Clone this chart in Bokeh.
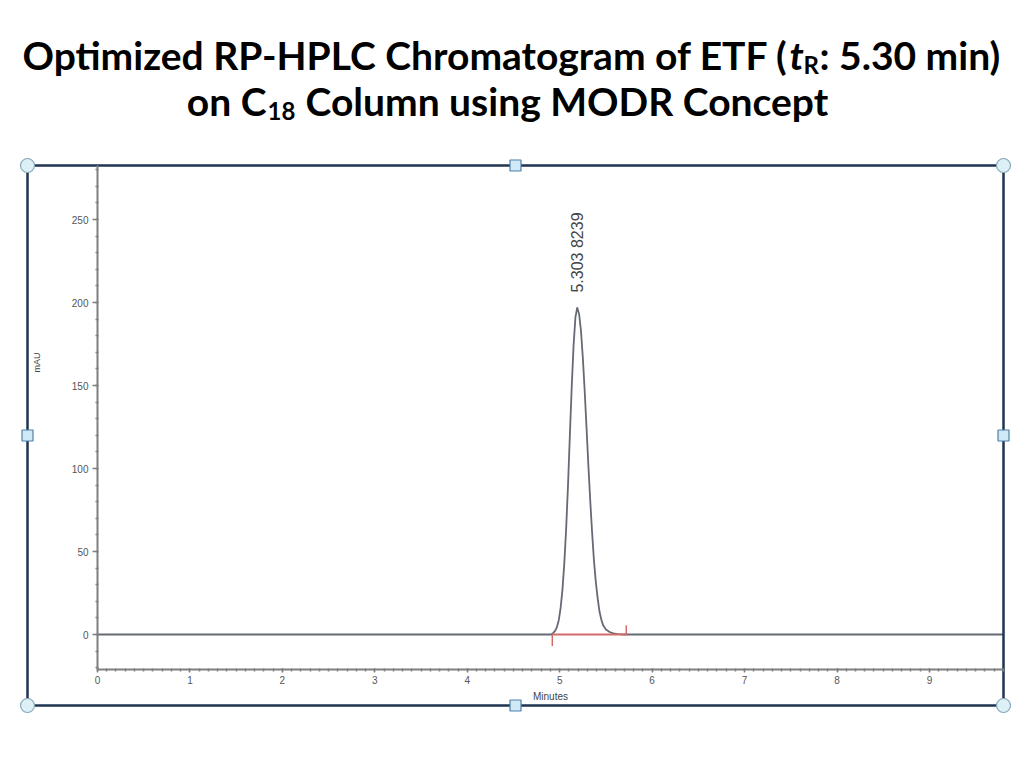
import math
from bokeh.plotting import figure
from bokeh.models import Range1d, FixedTicker
from bokeh.layouts import column
from bokeh.core.properties import value
from bokeh.embed import file_html
from bokeh.resources import INLINE

# ---------------- data ----------------
title_l1_main = "Optimized RP-HPLC Chromatogram of ETF ("
title_l1_t = "t"
title_l1_sub = "R"
title_l1_end = ": 5.30 min)"
title_l2_main = "on C"
title_l2_sub = "18"
title_l2_end = "Column using MODR Concept"

x_label = "Minutes"
y_label = "mAU"
peak_label = "5.303 8239"

x_ticks = [0, 1, 2, 3, 4, 5, 6, 7, 8, 9]
y_ticks = [0, 50, 100, 150, 200, 250]

run_start = 0.0
run_end = 9.8

peak_time = [4.91, 4.93, 4.95, 4.97, 4.99, 5.01, 5.03, 5.05, 5.07, 5.09,
             5.11, 5.13, 5.15, 5.17, 5.19, 5.21, 5.23, 5.25, 5.27, 5.29,
             5.31, 5.33, 5.35, 5.37, 5.39, 5.41, 5.43, 5.45, 5.47, 5.50,
             5.54, 5.58, 5.63, 5.70]
peak_mau = [0, 1, 2.2, 4.5, 8.6, 16, 27, 43, 64, 90,
            120, 149, 174, 191, 197, 193, 183, 167, 147, 125,
            102, 81, 62, 45, 32, 22, 14, 9, 5.5, 3,
            1.5, 0.7, 0.2, 0]

integ_start = 4.92
integ_end = 5.72
integ_tick_start = -7.0
integ_tick_end = 5.5

trace_time = [run_start] + peak_time + [run_end]
trace_mau = [0] + peak_mau + [0]

# ---------------- geometry (pixels) ----------------
W = 1016
TH = 150
CH = 570
PX_PER_MIN = 92.44
PX_PER_MAU = 1.66
X0_LOCAL = 97          # local x of t = 0
Y0_LOCAL = 484         # local y (from top) of 0 mAU

x_start = -X0_LOCAL / PX_PER_MIN
x_end = (W - X0_LOCAL) / PX_PER_MIN
y_end = Y0_LOCAL / PX_PER_MAU
y_start = -(CH - Y0_LOCAL) / PX_PER_MAU

def dx(px):
    return (px - X0_LOCAL) / PX_PER_MIN

def dy(py):
    return (Y0_LOCAL - py) / PX_PER_MAU

box_l, box_r = dx(27), dx(1003)
box_t, box_b = dy(15), dy(555)
xaxis_y = dy(519)

# ---------------- title figure ----------------
t = figure(width=W, height=TH, x_range=Range1d(0, W), y_range=Range1d(TH, 0),
           output_backend="svg", toolbar_location=None, min_border=0)
t.axis.visible = False
t.grid.visible = False
t.outline_line_color = None

TF = value("Lato")
big = "39px"
small = "24px"
K = "#000000"
a1 = 788
b1 = 54
t.text(x=[a1], y=[b1], text=[title_l1_main], text_font=TF, text_font_style="bold",
       text_font_size=big, text_align="right", text_baseline="alphabetic", text_color=K)
t.text(x=[a1 + 1], y=[b1], text=[title_l1_t], text_font=TF, text_font_style="bold italic",
       text_font_size=big, text_align="left", text_baseline="alphabetic", text_color=K)
t.text(x=[a1 + 15], y=[b1 + 10], text=[title_l1_sub], text_font=TF, text_font_style="bold",
       text_font_size=small, text_align="left", text_baseline="alphabetic", text_color=K)
t.text(x=[a1 + 31], y=[b1], text=[title_l1_end], text_font=TF, text_font_style="bold",
       text_font_size=big, text_align="left", text_baseline="alphabetic", text_color=K)
a2 = 266
b2 = 100
t.text(x=[a2], y=[b2], text=[title_l2_main], text_font=TF, text_font_style="bold",
       text_font_size=big, text_align="right", text_baseline="alphabetic", text_color=K)
t.text(x=[a2 + 1], y=[b2 + 10], text=[title_l2_sub], text_font=TF, text_font_style="bold",
       text_font_size=small, text_align="left", text_baseline="alphabetic", text_color=K)
t.text(x=[a2 + 39], y=[b2], text=[title_l2_end], text_font=TF, text_font_style="bold",
       text_font_size=big, text_align="left", text_baseline="alphabetic", text_color=K)

# ---------------- chart figure ----------------
p = figure(width=W, height=CH, x_range=Range1d(x_start, x_end), y_range=Range1d(y_start, y_end),
           output_backend="svg", toolbar_location=None, min_border=0)
p.grid.visible = False
p.outline_line_color = None

AX = "#7f7f7f"
p.xaxis.fixed_location = xaxis_y
p.xaxis.bounds = (run_start, box_r)
p.xaxis.ticker = FixedTicker(ticks=x_ticks, minor_ticks=[i / 10 for i in range(0, 99)])
p.yaxis.fixed_location = run_start
p.yaxis.bounds = (xaxis_y, box_t)
p.yaxis.ticker = FixedTicker(ticks=y_ticks, minor_ticks=list(range(-20, 290, 10)))
for ax in (p.xaxis[0], p.yaxis[0]):
    ax.axis_line_color = AX
    ax.axis_line_width = 2
    ax.major_tick_line_color = AX
    ax.minor_tick_line_color = AX
    ax.major_tick_line_width = 1.5
    ax.minor_tick_line_width = 1.5
    ax.major_label_text_font = "Liberation Sans"
    ax.major_label_text_font_size = "10px"
    ax.major_label_text_color = "#555555"
p.yaxis.major_tick_in = 0
p.yaxis.major_tick_out = 5
p.yaxis.minor_tick_in = 1
p.yaxis.minor_tick_out = 2
p.yaxis.major_label_standoff = 4
p.xaxis.major_tick_in = 1
p.xaxis.major_tick_out = 3
p.xaxis.minor_tick_in = 1
p.xaxis.minor_tick_out = 2
p.xaxis.major_label_standoff = 3
p.xaxis.axis_label = x_label
p.xaxis.axis_label_text_font = "Liberation Sans"
p.xaxis.axis_label_text_font_size = "10px"
p.xaxis.axis_label_text_font_style = "normal"
p.xaxis.axis_label_text_color = "#444444"
p.xaxis.axis_label_standoff = 4

# detector trace
p.line(trace_time, trace_mau, line_color="#656a73", line_width=1.8)

# integration baseline
p.line([integ_start, integ_end], [0, 0], line_color="#d46a6a", line_width=1.8)
p.segment(x0=[integ_start, integ_end], y0=[0, 0], x1=[integ_start, integ_end],
          y1=[integ_tick_start, integ_tick_end], line_color="#d46a6a", line_width=1.5)

# peak annotation
apex_i = peak_mau.index(max(peak_mau))
p.text(x=[peak_time[apex_i]], y=[peak_mau[apex_i] + 9], text=[peak_label], angle=math.pi / 2,
       text_font=value("Liberation Sans"), text_font_size="16px", text_color="#444444",
       text_align="left", text_baseline="middle")

# y axis label
p.text(x=[dx(36.5)], y=[dy(212)], text=[y_label], angle=math.pi / 2,
       text_font=value("Liberation Sans"), text_font_size="9px", text_color="#444444",
       text_align="center", text_baseline="middle")

# frame box with selection handles
p.quad(left=[box_l], right=[box_r], top=[box_t], bottom=[box_b], fill_color=None,
       line_color="#1f3450", line_width=2.5)
mx = (box_l + box_r) / 2
my = (box_t + box_b) / 2
p.scatter(x=[box_l, box_r, box_l, box_r], y=[box_t, box_t, box_b, box_b], marker="circle",
          size=14, fill_color="#dcf0f6", line_color="#8aa7ba", line_width=1.2)
p.scatter(x=[mx, mx, box_l, box_r], y=[box_t, box_b, my, my], marker="square",
          size=11, fill_color="#cfe9f6", line_color="#4f80aa", line_width=1.2)

layout = column(t, p, spacing=0)
open("out.html", "w").write(file_html(layout, INLINE))
